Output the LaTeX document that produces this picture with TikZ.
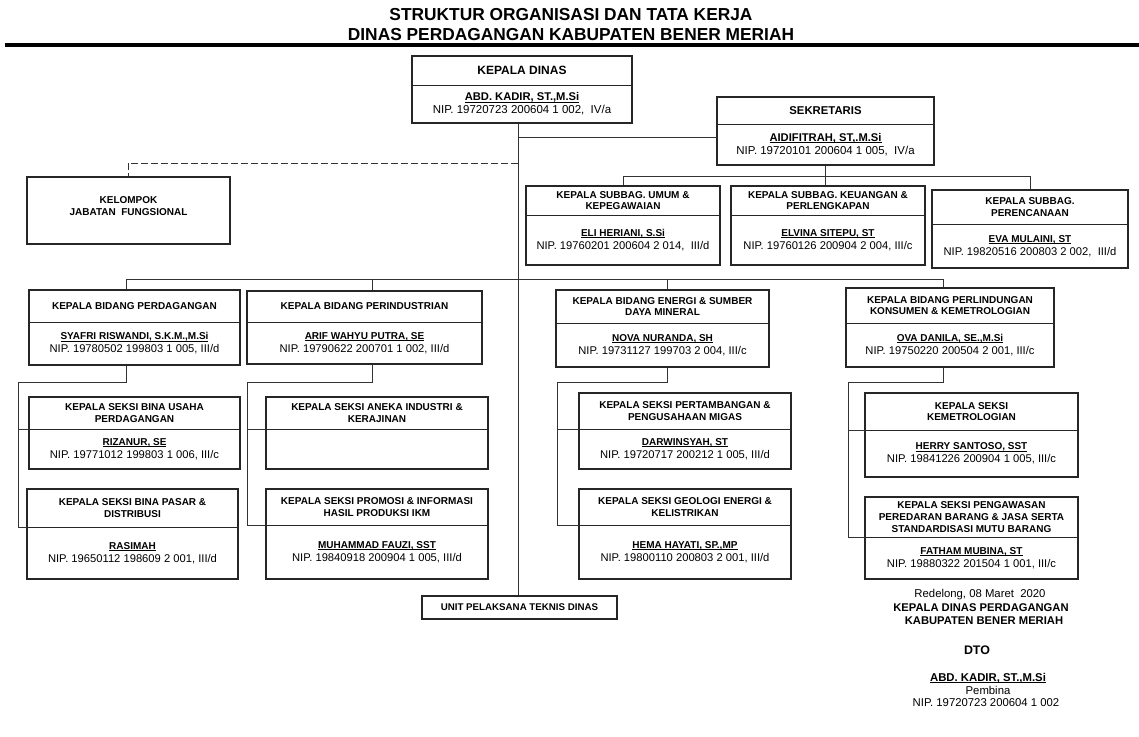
\documentclass[tikz,border=0pt]{standalone}
\usepackage{fontspec}
\setmainfont{Liberation Sans}
\usetikzlibrary{positioning, fit, calc}

\newcommand{\nama}[2][7.5]{{\bfseries\fontsize{#1}{9.8}\selectfont\setbox0\hbox{#2}\rlap{\rule[-1.2pt]{\wd0}{0.6pt}}\box0}}

\begin{document}
\begin{tikzpicture}[
        x=0.75pt, y=-0.75pt,
        garis/.style={draw=black!80, line width=0.6pt},
        kotak/.style={draw=black!85, line width=0.9pt, inner sep=0pt},
        sekat/.style={draw=black!85, line width=0.7pt},
        judul/.style={align=center, font=\bfseries\fontsize{7.5}{8.8}\selectfont, inner sep=0pt},
        isi/.style={align=center, font=\fontsize{8.4}{9.8}\selectfont, inner sep=0pt},
        ttd/.style={font=\fontsize{8.5}{10}\selectfont, inner sep=0pt},
    ]
    \useasboundingbox (0,0) rectangle (1139,737);

    % Judul
    \node[font=\bfseries\fontsize{13}{15}\selectfont, inner sep=0pt] (judul-1) at (571,15) {STRUKTUR ORGANISASI DAN TATA KERJA};
    \node[font=\bfseries\fontsize{13}{15}\selectfont, inner sep=0pt] (judul-2) at (571,35) {DINAS PERDAGANGAN KABUPATEN BENER MERIAH};
    \draw[line width=2.3pt] (5,45) -- (1139,45);

    % Kotak jabatan: nama / kiri / atas / kanan / bawah / sekat
    \foreach \id/\xa/\ya/\xb/\yb/\yd in {
        kd/412/56/632/123/85,
        sek/717/97/934/165/124,
        umum/526/186/720/265/215,
        keu/731/186/925/265/215,
        renc/932/190/1128/268/224,
        dag/29/290/240/365/322,
        ind/247/291/482/364/322,
        esdm/556/290/769/367/323,
        lind/846/288/1054/367/323,
        usaha/29/397/240/469/429,
        pasar/27/489/238/579/527,
        aneka/266/397/488/469/429,
        promosi/266/489/488/579/525,
        tambang/579/393/791/469/429,
        geologi/579/489/791/579/525,
        metro/865/393/1078/477/430,
        awas/865/497/1078/579/537%
    }{
        \node[kotak, fit={(\xa,\ya) (\xb,\yb)}] (\id) {};
        \draw[sekat] (\xa,\yd) -- (\xb,\yd);
        \coordinate (\id-kiri) at (\xa,\yd);
        \coordinate (\id-atas) at ({(\xa+\xb)/2},{(\ya+\yd)/2});
        \coordinate (\id-bawah) at ({(\xa+\xb)/2},{(\yd+\yb)/2});
    }

    \node[kotak, fit={(27,177) (230,244)}] (kjf) {};
    \node[kotak, fit={(422,596) (617,619)}] (upt) {};

    % Isi kotak
    \node[judul, font=\bfseries\fontsize{9}{10}\selectfont] (kd-judul) at (kd-atas) {KEPALA DINAS};
    \node[isi, font=\fontsize{8.6}{9.8}\selectfont] (kd-isi) at (kd-bawah) {\nama[8.4]{ABD. KADIR, ST.,M.Si}\\NIP. 19720723 200604 1 002,\ \ IV/a};
    \node[judul, font=\bfseries\fontsize{8.5}{10}\selectfont] (sek-judul) at (sek-atas) {SEKRETARIS};
    \node[isi, font=\fontsize{8.6}{9.8}\selectfont] (sek-isi) at (sek-bawah) {\nama[8.4]{AIDIFITRAH, ST,.M.Si}\\NIP. 19720101 200604 1 005,\ \ IV/a};

    \node[judul] (kjf-judul) at (128.5,206) {KELOMPOK\\JABATAN\ \ FUNGSIONAL};
    \node[judul, font=\bfseries\fontsize{7.3}{8.8}\selectfont] (upt-judul) at (upt) {UNIT PELAKSANA TEKNIS DINAS};

    \node[judul] (umum-judul) at (umum-atas) {KEPALA SUBBAG. UMUM \&\\KEPEGAWAIAN};
    \node[isi] (umum-isi) at (umum-bawah) {\nama{ELI HERIANI, S.Si}\\NIP. 19760201 200604 2 014,\ \ III/d};
    \node[judul] (keu-judul) at (keu-atas) {KEPALA SUBBAG. KEUANGAN \&\\PERLENGKAPAN};
    \node[isi] (keu-isi) at (keu-bawah) {\nama{ELVINA SITEPU, ST}\\NIP. 19760126 200904 2 004, III/c};
    \node[judul] (renc-judul) at (renc-atas) {KEPALA SUBBAG.\\PERENCANAAN};
    \node[isi] (renc-isi) at (renc-bawah) {\nama{EVA MULAINI, ST}\\NIP. 19820516 200803 2 002,\ \ III/d};

    \node[judul] (dag-judul) at (dag-atas) {KEPALA BIDANG PERDAGANGAN};
    \node[isi] (dag-isi) at (dag-bawah) {\nama{SYAFRI RISWANDI, S.K.M.,M.Si}\\NIP. 19780502 199803 1 005, III/d};
    \node[judul] (ind-judul) at (ind-atas) {KEPALA BIDANG PERINDUSTRIAN};
    \node[isi] (ind-isi) at (ind-bawah) {\nama{ARIF WAHYU PUTRA, SE}\\NIP. 19790622 200701 1 002, III/d};
    \node[judul] (esdm-judul) at (esdm-atas) {KEPALA BIDANG ENERGI \& SUMBER\\DAYA MINERAL};
    \node[isi] (esdm-isi) at (esdm-bawah) {\nama{NOVA NURANDA, SH}\\NIP. 19731127 199703 2 004, III/c};
    \node[judul] (lind-judul) at (lind-atas) {KEPALA BIDANG PERLINDUNGAN\\KONSUMEN \& KEMETROLOGIAN};
    \node[isi] (lind-isi) at (lind-bawah) {\nama{OVA DANILA, SE.,M.Si}\\NIP. 19750220 200504 2 001, III/c};

    \node[judul] (usaha-judul) at (usaha-atas) {KEPALA SEKSI BINA USAHA\\PERDAGANGAN};
    \node[isi] (usaha-isi) at (usaha-bawah) {\nama{RIZANUR, SE}\\NIP. 19771012 199803 1 006, III/c};
    \node[judul] (pasar-judul) at (pasar-atas) {KEPALA SEKSI BINA PASAR \&\\DISTRIBUSI};
    \node[isi] (pasar-isi) at (pasar-bawah) {\nama{RASIMAH}\\NIP. 19650112 198609 2 001, III/d};
    \node[judul] (aneka-judul) at (aneka-atas) {KEPALA SEKSI ANEKA INDUSTRI \&\\KERAJINAN};
    \node[judul] (promosi-judul) at (promosi-atas) {KEPALA SEKSI PROMOSI \& INFORMASI\\HASIL PRODUKSI IKM};
    \node[isi] (promosi-isi) at (promosi-bawah) {\nama{MUHAMMAD FAUZI, SST}\\NIP. 19840918 200904 1 005, III/d};
    \node[judul] (tambang-judul) at (tambang-atas) {KEPALA SEKSI PERTAMBANGAN \&\\PENGUSAHAAN MIGAS};
    \node[isi] (tambang-isi) at (tambang-bawah) {\nama{DARWINSYAH, ST}\\NIP. 19720717 200212 1 005, III/d};
    \node[judul] (geologi-judul) at (geologi-atas) {KEPALA SEKSI GEOLOGI ENERGI \&\\KELISTRIKAN};
    \node[isi] (geologi-isi) at (geologi-bawah) {\nama{HEMA HAYATI, SP.,MP}\\NIP. 19800110 200803 2 001, III/d};
    \node[judul] (metro-judul) at (metro-atas) {KEPALA SEKSI\\KEMETROLOGIAN};
    \node[isi] (metro-isi) at (metro-bawah) {\nama{HERRY SANTOSO, SST}\\NIP. 19841226 200904 1 005, III/c};
    \node[judul] (awas-judul) at (awas-atas) {KEPALA SEKSI PENGAWASAN\\PEREDARAN BARANG \& JASA SERTA\\STANDARDISASI MUTU BARANG};
    \node[isi] (awas-isi) at (awas-bawah) {\nama{FATHAM MUBINA, ST}\\NIP. 19880322 201504 1 001, III/c};

    % Garis komando
    \coordinate (pusat) at (518,0);
    \coordinate (sek-masuk) at (717,137);
    \coordinate (tap-kjf) at (518,163);
    \coordinate (bus-sub) at (0,176);
    \coordinate (bus-bid) at (0,279);
    \draw[garis] (kd.south -| pusat) -- (upt.north -| pusat);
    \draw[garis] (pusat |- sek-masuk) -- (sek-masuk);
    \draw[garis, dashed, dash pattern=on 5pt off 2.5pt] (tap-kjf) -| (kjf.north);
    \draw[garis] (sek.south) -- (sek.south |- keu.north);
    \draw[garis] (umum.north) -- (umum.north |- bus-sub) -- (renc.north |- bus-sub) -- (renc.north);

    % Bidang: nama / x sambungan / x rel / seksi atas / seksi bawah
    \foreach \bid/\xt/\xr/\atas/\bawah in {dag/126/18/usaha/pasar, ind/372/247/aneka/promosi, esdm/667/557/tambang/geologi, lind/943/848/metro/awas} {
        \coordinate (\bid-tap) at (\xt,0);
        \coordinate (\bid-rel) at (\xr,382);
        \draw[garis] (\bid.north -| \bid-tap) -- (bus-bid -| \bid-tap);
        \draw[garis] (\bid.south -| \bid-tap) -- (\bid-rel -| \bid-tap) -- (\bid-rel) -- (\bid-rel |- \bawah-kiri) -- (\bawah-kiri);
        \draw[garis] (\bid-rel |- \atas-kiri) -- (\atas-kiri);
    }
    \draw[garis] (bus-bid -| dag-tap) -- (bus-bid -| lind-tap);

    % Pengesahan
    \node[ttd] (ttd-tempat) at (980,595) {Redelong, 08 Maret\ \ 2020};
    \node[ttd, font=\bfseries\fontsize{8.4}{10}\selectfont] (ttd-jabatan) at (981,608) {KEPALA DINAS PERDAGANGAN};
    \node[ttd, font=\bfseries\fontsize{8.4}{10}\selectfont] (ttd-instansi) at (984,621) {KABUPATEN BENER MERIAH};
    \node[ttd, font=\bfseries\fontsize{9.3}{11}\selectfont] (ttd-dto) at (977,650) {DTO};
    \node[ttd] (ttd-nama) at (988,678) {\nama[8.5]{ABD. KADIR, ST.,M.Si}};
    \node[ttd] (ttd-pangkat) at (988,690) {Pembina};
    \node[ttd] (ttd-nip) at (986,703) {NIP. 19720723 200604 1 002};
\end{tikzpicture}
\end{document}
